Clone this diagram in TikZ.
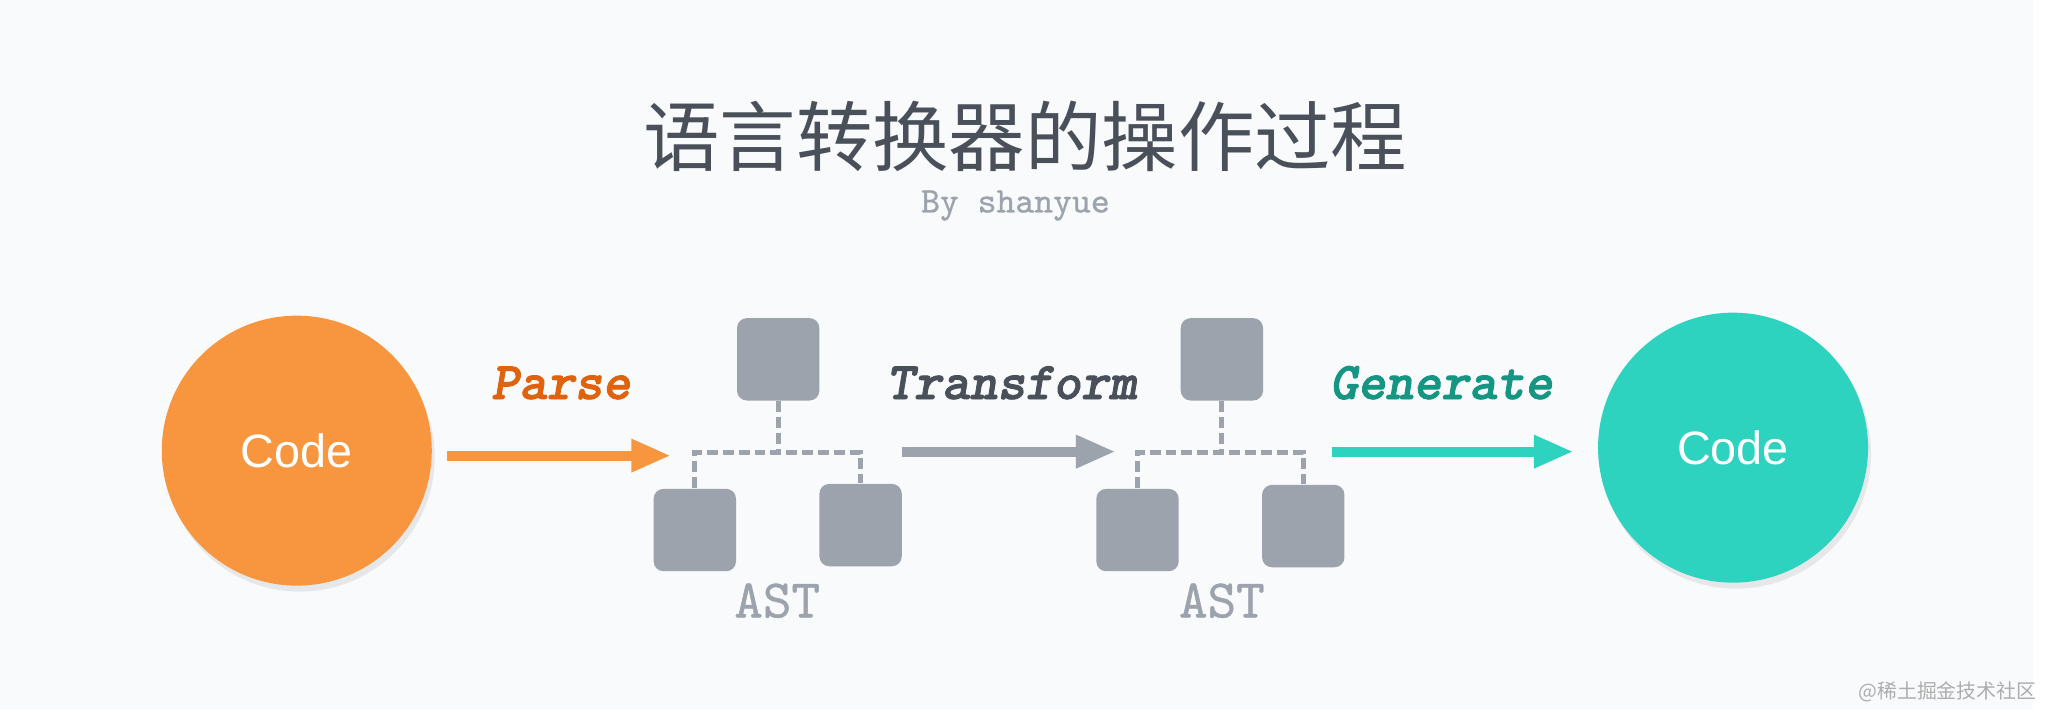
\documentclass[tikz,border=0pt]{standalone}
\usepackage{fontspec}
\setmainfont{Liberation Sans}
\newfontfamily\cjk{Noto Sans CJK SC}
\newfontfamily\codebi{lmmonolt10-boldoblique.otf}[FakeBold=1.6]
\newfontfamily\codert{lmmono10-regular.otf}[FakeBold=0.8]
\usetikzlibrary{arrows.meta,shadows}
\definecolor{bgc}{HTML}{F8FAFC}
\definecolor{orc}{HTML}{F8963F}
\definecolor{ortx}{HTML}{E0620C}
\definecolor{tlc}{HTML}{2ED3BF}
\definecolor{tltx}{HTML}{149683}
\definecolor{boxc}{HTML}{9CA3AD}
\definecolor{dark}{HTML}{4A505A}
\begin{document}
\begin{tikzpicture}[x=0.1mm,y=-0.1mm,
    ball/.style={circle,minimum size=27.2mm,inner sep=0pt,text=white,font=\fontsize{13.4}{16}\selectfont,
      drop shadow={shadow xshift=0.3mm,shadow yshift=-0.6mm,opacity=0.15}},
    box/.style={rectangle,rounded corners=1mm,fill=boxc,minimum size=8.3mm,inner sep=0pt},
    tree/.style={draw=boxc,line width=0.5mm,dash pattern=on 1.1mm off 0.5mm},
    lab/.style={anchor=base,font=\codebi\fontsize{15.2}{18}\selectfont},
    ast/.style={anchor=base,text=boxc,font=\codert\fontsize{15.6}{18}\selectfont},
    flow/.style={line width=1mm,-{Triangle[length=4mm,width=3.1mm]}}]
  \fill[bgc] (0,0) rectangle (2048,714);
  \node (Ti) at (1033,137) [text=dark,font=\cjk\fontsize{21.9}{26}\selectfont] {语言转换器的操作过程};
  \node (By) at (1023,214) [anchor=base,text=boxc,font=\codert\fontsize{10.3}{12}\selectfont] {By shanyue};
  \node (Cl) at (299,454) [ball,fill=orc] {Code};
  \node (Cr) at (1746,451) [ball,fill=tlc] {Code};
  \node (Pa) at (565,402) [lab,text=ortx] {Parse};
  \node (Tr) at (1019,402) [lab,text=dark] {Transform};
  \node (Ge) at (1452,402) [lab,text=tltx] {Generate};
  \node (T1) at (784,362) [box] {};
  \node (L1) at (700,534) [box] {};
  \node (R1) at (867,529) [box] {};
  \node (T2) at (1231,362) [box] {};
  \node (L2) at (1146,534) [box] {};
  \node (R2) at (1313,530) [box] {};
  \coordinate (J1) at (784,456);
  \coordinate (J2) at (1231,456);
  \draw[tree] (T1) -- (J1);
  \draw[tree] (L1) |- (J1) -| (R1);
  \draw[tree] (T2) -- (J2);
  \draw[tree] (L2) |- (J2) -| (R2);
  \node (A1) at (783,622) [ast] {AST};
  \node (A2) at (1231,622) [ast] {AST};
  \coordinate (e1) at (676,459);
  \coordinate (e2) at (1124,455);
  \coordinate (s3) at (1342,455);
  \draw[flow,orc] (Cl.east |- e1) ++(15,0) -- (e1);
  \draw[flow,boxc] (R1.east |- e2) -- (e2);
  \draw[flow,tlc,shorten >=2.4mm] (s3) -- (s3 -| Cr.west);
  \node (Wm) at (1962,697) [text=black!32,font=\cjk\fontsize{5.7}{7}\selectfont] {@稀土掘金技术社区};
\end{tikzpicture}
\end{document}
